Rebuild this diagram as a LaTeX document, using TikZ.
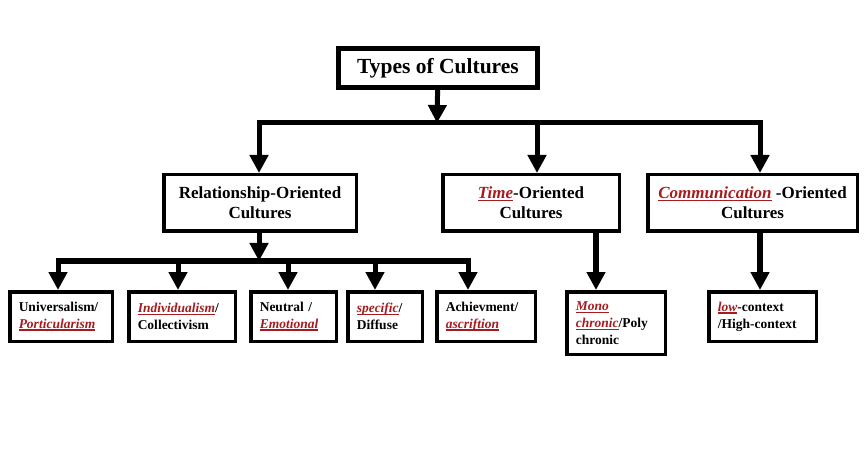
\documentclass[tikz,border=0pt]{standalone}
\usepackage{fontspec}
\setmainfont{Liberation Serif}
\usetikzlibrary{arrows.meta}
\definecolor{tred}{RGB}{165,27,32}
% red, italic, underlined word
\newcommand{\redul}[1]{\setbox0\hbox{\bfseries\itshape #1}\textcolor{tred}{\rlap{\rule[-2.6pt]{\wd0}{1.4pt}}\box0}}
\tikzset{
  box/.style={draw,line width=3.5pt,inner sep=0pt,align=center},
  head/.style={box,line width=5pt,minimum width=199pt,minimum height=39pt,
    font=\bfseries\fontsize{21.5}{24}\selectfont},
  group/.style={box,minimum height=56.5pt,font=\bfseries\fontsize{17}{20}\selectfont},
  leaf/.style={box,inner xsep=9pt,align=left,minimum height=49.5pt,
    font=\bfseries\fontsize{13.5}{16.8}\selectfont},
  arr/.style={line width=5pt,-{Triangle[width=18pt,length=18pt]}},
  bar/.style={line width=5pt,line cap=rect}
}
\begin{document}
\begin{tikzpicture}[x=1pt,y=-1pt,line join=miter]
  \useasboundingbox (0,0) rectangle (864,454);
  % top
  \node[head] (types) at (438,68) {Types of Cultures};
  \node[group,minimum width=192.5pt] (rel) at (260,203) {Relationship-Oriented\\Cultures};
  \node[group,minimum width=176.5pt] (time) at (531,203) {\redul{Time}-Oriented\\Cultures};
  \node[group,minimum width=209.5pt] (comm) at (752.5,203) {\redul{Communication} -Oriented\\Cultures};
  % leaves
  \node[leaf,text width=84.5pt] (uni) at (61,316.5) {Universalism/\\\redul{Porticularism}};
  \node[leaf,text width=88.5pt] (ind) at (182,316.5) {\redul{Individualism}/\\Collectivism};
  \node[leaf,text width=67.5pt] (neu) at (293.5,316.5) {Neutral /\\\redul{Emotional}};
  \node[leaf,text width=56.5pt] (spec) at (385,316.5) {\redul{specific}/\\Diffuse};
  \node[leaf,text width=80.5pt] (ach) at (486,316.5) {Achievment/\\\redul{ascriftion}};
  \node[leaf,text width=80.5pt,minimum height=62.5pt] (mono) at (616,323) {\redul{Mono}\\\redul{chronic}/Poly\\chronic};
  \node[leaf,text width=89.5pt] (low) at (762.5,316.5) {\redul{low}-context\\/High-context};
  % first level
  \coordinate (jtop) at (437,123);
  \coordinate (jrel) at (259,123);
  \coordinate (jtime) at (537,123);
  \coordinate (jcomm) at (760,123);
  \draw[bar] (jrel) -- (jcomm);
  \draw[arr] (types) -- (jtop);
  \foreach \n in {rel,time,comm}
    \draw[arr] (j\n) -- (j\n |- \n.north);
  % second level
  \coordinate (jlow) at (259,261);
  \draw[arr] (rel.south -| jlow) -- (jlow);
  \foreach \n/\x in {uni/58,ind/178,neu/288,spec/375,ach/468}
    \coordinate (j\n) at (\x,261);
  \draw[bar] (juni) -- (jach);
  \foreach \n in {uni,ind,neu,spec,ach}
    \draw[arr] (j\n) -- (j\n |- \n.north);
  \draw[arr,line width=6pt] ([xshift=65pt]time.south) -- ([xshift=65pt]time.south |- mono.north);
  \draw[arr,line width=6pt] (comm.south -| jcomm) -- (jcomm |- low.north);
\end{tikzpicture}
\end{document}
